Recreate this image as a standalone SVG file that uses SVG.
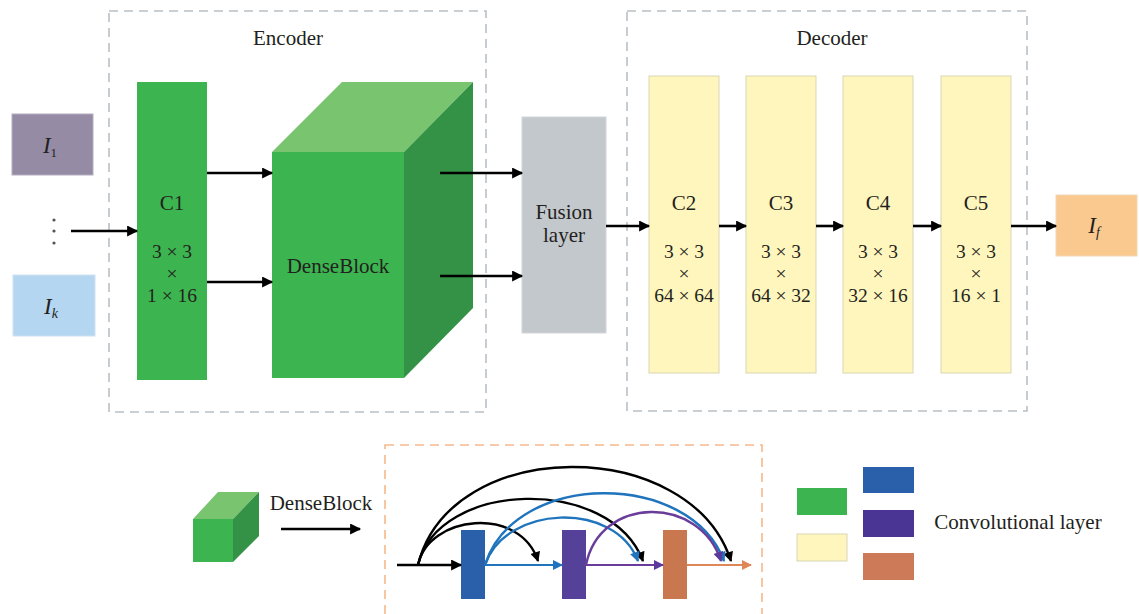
<svg xmlns="http://www.w3.org/2000/svg" width="1139" height="614" viewBox="0 0 1139 614">
  <style>
    .t { font-family: "Liberation Serif", "Times New Roman", serif; font-size: 21px; fill: #231f20; text-anchor: middle; }
    .s { font-size: 19.5px; }
    .it { font-style: italic; font-size: 23px; }
    .frame { fill: none; stroke: #b9c0c6; stroke-width: 1.6; stroke-dasharray: 9 6; }
    .conv { fill: #fff6bd; stroke: #d9d5b3; stroke-width: 1; }
    .arr { stroke: #000; stroke-width: 2.6; fill: none; marker-end: url(#ah); }
    .arc { stroke-width: 2.4; fill: none; }
  </style>
  <defs>
    <marker id="ah" viewBox="0 0 10 10" refX="9" refY="5" markerWidth="13" markerHeight="11" markerUnits="userSpaceOnUse" orient="auto">
      <path d="M0,0 L10,5 L0,10 z" fill="#000"/>
    </marker>
    <marker id="ahk" viewBox="0 0 10 10" refX="9" refY="5" markerWidth="11" markerHeight="10" markerUnits="userSpaceOnUse" orient="auto">
      <path d="M0,0 L10,5 L0,10 z" fill="#000"/>
    </marker>
    <marker id="ahb" viewBox="0 0 10 10" refX="9" refY="5" markerWidth="11" markerHeight="10" markerUnits="userSpaceOnUse" orient="auto">
      <path d="M0,0 L10,5 L0,10 z" fill="#1f74bd"/>
    </marker>
    <marker id="ahp" viewBox="0 0 10 10" refX="9" refY="5" markerWidth="11" markerHeight="10" markerUnits="userSpaceOnUse" orient="auto">
      <path d="M0,0 L10,5 L0,10 z" fill="#5b3a9c"/>
    </marker>
    <marker id="aho" viewBox="0 0 10 10" refX="9" refY="5" markerWidth="12" markerHeight="10" markerUnits="userSpaceOnUse" orient="auto">
      <path d="M0,0 L10,5 L0,10 z" fill="#e0875a"/>
    </marker>
  </defs>

  <!-- encoder / decoder frames -->
  <g id="encoder">
    <rect class="frame" x="109" y="11" width="377" height="401"/>
    <text class="t" x="288" y="45">Encoder</text>
  </g>
  <g id="decoder">
    <rect class="frame" x="627" y="11" width="400" height="400"/>
    <text class="t" x="832" y="45">Decoder</text>
  </g>

  <!-- inputs -->
  <g id="input-1">
    <rect x="12" y="114" width="81" height="61" fill="#958ba5" stroke="#b3adc0" stroke-width="1"/>
    <text class="t it" x="50" y="153">I<tspan font-size="13" font-style="normal" dy="4">1</tspan></text>
  </g>
  <g id="input-dots" fill="#555">
    <circle cx="54" cy="220" r="1.6"/>
    <circle cx="54" cy="231" r="1.6"/>
    <circle cx="54" cy="243" r="1.6"/>
  </g>
  <g id="input-k">
    <rect x="13" y="275" width="82" height="61" fill="#b4d6f0" stroke="#cfe2f2" stroke-width="1"/>
    <text class="t it" x="51" y="314">I<tspan font-size="14" dy="4">k</tspan></text>
  </g>

  <!-- C1 -->
  <g id="c1">
    <rect x="137" y="82" width="70" height="298" fill="#3cb44f"/>
    <text class="t" x="172" y="210">C1</text>
    <text class="t s" x="172" y="258">3 × 3</text>
    <text class="t s" x="172" y="280">×</text>
    <text class="t s" x="172" y="302">1 × 16</text>
  </g>

  <!-- DenseBlock cube -->
  <g id="denseblock">
    <polygon points="272,152 342,82 473,82 404,152" fill="#78c46f"/>
    <polygon points="404,152 473,82 473,308 404,378" fill="#339245"/>
    <rect x="272" y="152" width="132" height="226" fill="#3cb44f"/>
    <text class="t" x="338" y="273">DenseBlock</text>
  </g>

  <!-- Fusion layer -->
  <g id="fusion">
    <rect x="522" y="117" width="84" height="216" fill="#c3c8cd" stroke="#d2d6da" stroke-width="1"/>
    <text class="t" x="564" y="219">Fusion</text>
    <text class="t" x="564" y="242">layer</text>
  </g>

  <!-- decoder layers -->
  <g id="c2">
    <rect class="conv" x="649" y="76" width="70" height="297"/>
    <text class="t" x="684" y="210">C2</text>
    <text class="t s" x="684" y="258">3 × 3</text>
    <text class="t s" x="684" y="280">×</text>
    <text class="t s" x="684" y="302">64 × 64</text>
  </g>
  <g id="c3">
    <rect class="conv" x="746" y="76" width="70" height="297"/>
    <text class="t" x="781" y="210">C3</text>
    <text class="t s" x="781" y="258">3 × 3</text>
    <text class="t s" x="781" y="280">×</text>
    <text class="t s" x="781" y="302">64 × 32</text>
  </g>
  <g id="c4">
    <rect class="conv" x="843" y="76" width="70" height="297"/>
    <text class="t" x="878" y="210">C4</text>
    <text class="t s" x="878" y="258">3 × 3</text>
    <text class="t s" x="878" y="280">×</text>
    <text class="t s" x="878" y="302">32 × 16</text>
  </g>
  <g id="c5">
    <rect class="conv" x="941" y="76" width="70" height="297"/>
    <text class="t" x="976" y="210">C5</text>
    <text class="t s" x="976" y="258">3 × 3</text>
    <text class="t s" x="976" y="280">×</text>
    <text class="t s" x="976" y="302">16 × 1</text>
  </g>

  <!-- output -->
  <g id="output">
    <rect x="1056" y="195" width="81" height="61" fill="#f9c98f" stroke="#f3d7b5" stroke-width="1"/>
    <text class="t it" x="1094" y="233">I<tspan font-size="14" dy="4">f</tspan></text>
  </g>

  <!-- connectors -->
  <g id="connectors">
    <line class="arr" x1="71" y1="231" x2="137" y2="231"/>
    <line class="arr" x1="207" y1="173" x2="272" y2="173"/>
    <line class="arr" x1="207" y1="282" x2="272" y2="282"/>
    <line class="arr" x1="440" y1="173" x2="522" y2="173"/>
    <line class="arr" x1="440" y1="276" x2="522" y2="276"/>
    <line class="arr" x1="606" y1="226" x2="649" y2="226"/>
    <line class="arr" x1="719" y1="226" x2="746" y2="226"/>
    <line class="arr" x1="816" y1="226" x2="843" y2="226"/>
    <line class="arr" x1="913" y1="226" x2="941" y2="226"/>
    <line class="arr" x1="1011" y1="226" x2="1056" y2="226"/>
    <line class="arr" x1="281" y1="529" x2="360" y2="529"/>
  </g>

  <!-- legend: small DenseBlock cube -->
  <g id="legend-denseblock">
    <polygon points="193,519 218,492 259,492 233,519" fill="#78c46f"/>
    <polygon points="233,519 259,492 259,536 233,562" fill="#339245"/>
    <rect x="193" y="519" width="40" height="43" fill="#3cb44f"/>
    <text class="t" x="321" y="510">DenseBlock</text>
  </g>

  <!-- DenseBlock internals -->
  <g id="dense-detail">
    <rect x="385" y="445" width="377" height="180" fill="none" stroke="#f6b98b" stroke-width="1.6" stroke-dasharray="9 6"/>
    <rect x="461" y="530" width="24" height="69" fill="#2a5fa9"/>
    <rect x="562" y="530" width="24" height="69" fill="#55409a"/>
    <rect x="663" y="530" width="24" height="69" fill="#c9774e"/>
  </g>
  <g id="dense-connectors">
    <line x1="397" y1="565" x2="461" y2="565" stroke="#000" stroke-width="2.4" marker-end="url(#ah)"/>
    <line x1="485" y1="565" x2="562" y2="565" stroke="#1f74bd" stroke-width="2.2" marker-end="url(#ahb)"/>
    <line x1="586" y1="565" x2="663" y2="565" stroke="#6a3d9a" stroke-width="2" marker-end="url(#ahp)"/>
    <line x1="687" y1="565" x2="751" y2="565" stroke="#e0875a" stroke-width="2" marker-end="url(#aho)"/>
    <path class="arc" stroke="#000" d="M418,565 C428,515 520,505 538,561" marker-end="url(#ahk)"/>
    <path class="arc" stroke="#000" d="M418,565 C438,480 610,475 643,561" marker-end="url(#ahk)"/>
    <path class="arc" stroke="#000" d="M418,565 C450,435 690,435 731,561" marker-end="url(#ahk)"/>
    <path class="arc" stroke="#1f74bd" d="M485,565 C505,505 615,500 638,561" marker-end="url(#ahb)"/>
    <path class="arc" stroke="#1f74bd" d="M485,565 C515,470 690,470 724,561" marker-end="url(#ahb)"/>
    <path class="arc" stroke="#6a3d9a" d="M586,565 C600,495 700,495 721,561" marker-end="url(#ahp)"/>
  </g>

  <!-- legend: convolutional layer colours -->
  <g id="legend-conv">
    <rect x="797" y="488" width="50" height="27" fill="#3cb44f"/>
    <rect x="797" y="534" width="50" height="27" fill="#fff6bd" stroke="#d9d5b3" stroke-width="1"/>
    <rect x="863" y="467" width="51" height="26" fill="#2a5fa9"/>
    <rect x="863" y="510" width="51" height="27" fill="#4b3594"/>
    <rect x="863" y="553" width="51" height="27" fill="#cd7a58"/>
    <text class="t" x="1018" y="529">Convolutional layer</text>
  </g>
</svg>
